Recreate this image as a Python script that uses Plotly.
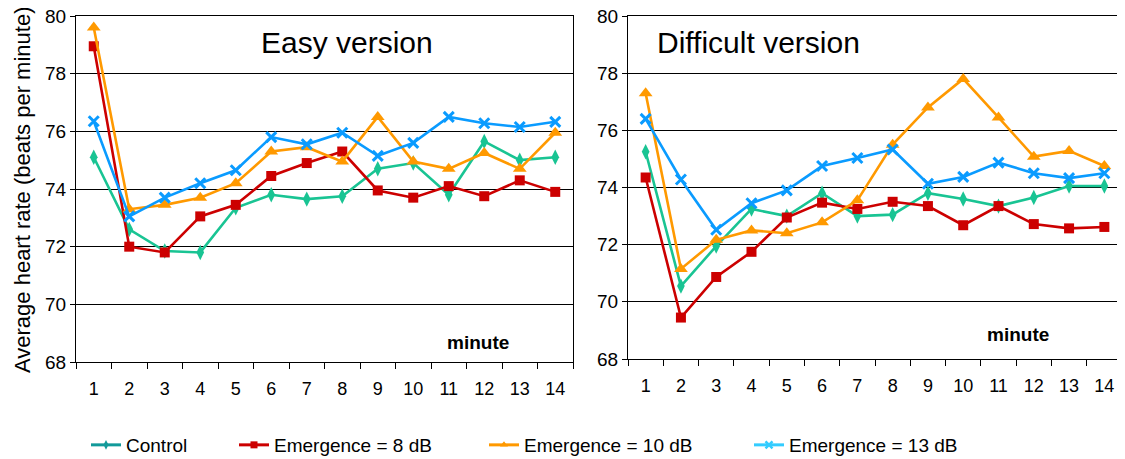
import plotly.graph_objects as go

minutes = [str(i) for i in range(1, 15)]

easy_control = [75.1, 72.6, 71.85, 71.8, 73.35, 73.8, 73.65, 73.75, 74.7, 74.9, 73.8, 75.65, 75.0, 75.1]
easy_8db = [78.95, 72.0, 71.8, 73.05, 73.45, 74.45, 74.9, 75.3, 73.95, 73.7, 74.1, 73.75, 74.3, 73.9]
easy_10db = [79.6, 73.3, 73.45, 73.7, 74.2, 75.3, 75.45, 74.95, 76.5, 74.95, 74.7, 75.25, 74.7, 75.95]
easy_13db = [76.35, 73.05, 73.7, 74.2, 74.65, 75.8, 75.55, 75.95, 75.15, 75.6, 76.5, 76.28, 76.15, 76.33]

diff_control = [75.25, 70.55, 71.95, 73.25, 73.0, 73.8, 73.0, 73.05, 73.8, 73.6, 73.35, 73.65, 74.05, 74.05]
diff_8db = [74.35, 69.45, 70.87, 71.75, 72.95, 73.47, 73.25, 73.5, 73.35, 72.68, 73.35, 72.72, 72.57, 72.62]
diff_10db = [77.3, 71.15, 72.17, 72.5, 72.4, 72.78, 73.55, 75.5, 76.8, 77.8, 76.45, 75.08, 75.28, 74.75]
diff_13db = [76.4, 74.28, 72.52, 73.45, 73.9, 74.75, 75.03, 75.33, 74.13, 74.37, 74.87, 74.5, 74.33, 74.5]

series_names = ["Control", "Emergence = 8 dB", "Emergence = 10 dB", "Emergence = 13 dB"]
line_colors = ["#19c493", "#cc0000", "#ff9900", "#0a9bff"]
legend_colors = ["#129a9a", "#cc0000", "#ff9900", "#33ccff"]
symbols = ["diamond-tall", "square", "triangle-up", "x-thin-open"]
sizes = [11, 10, 12, 10]

y_ticks = [68, 70, 72, 74, 76, 78, 80]

# page has an 8px body margin; size the figure so it fits the 1125x459 window
OFF = 8
W, H = 1125 - OFF, 459 - OFF


def px_x(x):
    return (x - OFF) / W


def px_y(y):
    return 1 - (y - OFF) / H


fig = go.Figure()

easy = [easy_control, easy_8db, easy_10db, easy_13db]
diff = [diff_control, diff_8db, diff_10db, diff_13db]

for data, xa, ya in [(easy, "x", "y"), (diff, "x2", "y2")]:
    for i, vals in enumerate(data):
        mk = dict(symbol=symbols[i], size=sizes[i], color=line_colors[i])
        if symbols[i] == "x-thin-open":
            mk["line"] = dict(width=3, color=line_colors[i])
        fig.add_trace(go.Scatter(
            x=minutes, y=vals, mode="lines+markers", xaxis=xa, yaxis=ya,
            line=dict(color=line_colors[i], width=2.6), marker=mk,
            showlegend=False, hoverinfo="skip", cliponaxis=False))

legend_names = ["legend", "legend2", "legend3", "legend4"]
legend_x_px = [86, 234, 484, 749]
legfont = dict(family="Liberation Sans Narrow, Arial Narrow, Liberation Sans", size=19, color="#000")

for i, name in enumerate(series_names):
    mk = dict(symbol=symbols[i], size=7, color=legend_colors[i])
    if symbols[i] == "x-thin-open":
        mk["line"] = dict(width=2.5, color=legend_colors[i])
    fig.add_trace(go.Scatter(
        x=[None], y=[None], mode="lines+markers", name=name, legend=legend_names[i],
        line=dict(color=legend_colors[i], width=3), marker=mk, showlegend=True))

legend_layout = {}
for i, ln in enumerate(legend_names):
    legend_layout[ln] = dict(orientation="h", x=px_x(legend_x_px[i]), xanchor="left",
                             y=px_y(445), yanchor="middle", font=legfont,
                             itemwidth=30, bgcolor="rgba(0,0,0,0)", borderwidth=0)

tickfont = dict(family="Liberation Sans Narrow, Arial Narrow, Liberation Sans", size=19, color="#000")
xtickfont = dict(family="Liberation Sans Narrow, Arial Narrow, Liberation Sans", size=18, color="#000")

common_x = dict(type="category", tickson="boundaries", ticks="outside", ticklen=6,
                tickcolor="#000", showline=True, linecolor="#000", linewidth=1,
                mirror=True, showgrid=False, tickfont=xtickfont, range=[-0.5, 13.5],
                ticklabelstandoff=10, fixedrange=True, automargin=False)
common_y = dict(range=[68, 80], tickvals=y_ticks, ticks="outside", ticklen=5,
                tickcolor="#000", showline=True, linecolor="#000", linewidth=1.2,
                mirror=True, showgrid=True, gridcolor="#000", gridwidth=1,
                zeroline=False, tickfont=tickfont, fixedrange=True, automargin=False,
                ticklabeloverflow="allow")

fig.update_layout(
    width=W, height=H,
    margin=dict(l=0, r=0, t=0, b=0, autoexpand=False),
    paper_bgcolor="white", plot_bgcolor="white",
    xaxis=dict(domain=[px_x(76), px_x(573)], anchor="y", **common_x),
    yaxis=dict(domain=[px_y(362), px_y(16)], anchor="x", **common_y),
    xaxis2=dict(domain=[px_x(628), px_x(1122)], anchor="y2", **common_x),
    yaxis2=dict(domain=[px_y(359), px_y(16)], anchor="x2", **common_y),
    font=dict(family="Liberation Sans, Arial", color="#000"),
    showlegend=True,
    **legend_layout,
)

ann_common = dict(xref="paper", yref="paper", showarrow=False, xanchor="center", yanchor="middle")
fig.add_annotation(text="Easy version", x=px_x(347), y=px_y(42),
                   font=dict(family="Liberation Sans, Arial", size=30, color="#000"), **ann_common)
fig.add_annotation(text="Difficult version", x=px_x(758), y=px_y(42),
                   font=dict(family="Liberation Sans, Arial", size=30, color="#000"), **ann_common)
fig.add_annotation(text="<b>minute</b>", x=px_x(478), y=px_y(342),
                   font=dict(family="Liberation Sans, Arial", size=19, color="#000"), **ann_common)
fig.add_annotation(text="<b>minute</b>", x=px_x(1018), y=px_y(334),
                   font=dict(family="Liberation Sans, Arial", size=19, color="#000"), **ann_common)
fig.add_annotation(text="Average heart rate (beats per minute)", x=px_x(22), y=px_y(190),
                   textangle=-90,
                   font=dict(family="Liberation Sans Narrow, Arial Narrow, Liberation Sans", size=22, color="#000"),
                   **ann_common)

fig.write_html("out.html")
